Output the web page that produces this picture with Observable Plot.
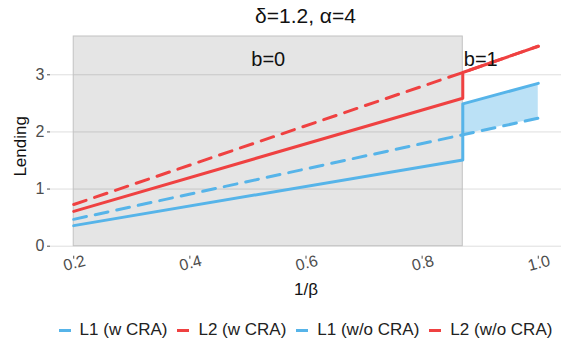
<!DOCTYPE html>
<html>
<head>
<meta charset="utf-8">
<script src="https://cdn.jsdelivr.net/npm/d3@7"></script>
<script src="https://cdn.jsdelivr.net/npm/@observablehq/plot@0.6"></script>
<style>
  html, body { margin: 0; padding: 0; background: white; }
  body { width: 561px; height: 348px; overflow: hidden; font-family: "Liberation Sans", Arial, sans-serif; }
  #title { height: 32px; line-height: 32px; margin-left: 50px; width: 511px; text-align: center; font-size: 21px; color: #111; }
  #legend { height: 36px; margin-left: 50px; width: 511px; display: flex; justify-content: center; align-items: center; font-size: 17px; color: #222; }
  .item { display: flex; align-items: center; margin: 0 5px; white-space: nowrap; }
  .key { width: 12px; height: 3px; margin-right: 9px; }
</style>
</head>
<body>
<div id="title">δ=1.2, α=4</div>
<div id="chart"></div>
<div id="legend"></div>
<script>
// ---- data ----
const seriesNames = ["L1 (w CRA)", "L2 (w CRA)", "L1 (w/o CRA)", "L2 (w/o CRA)"];
const seriesColors = ["#56B4E9", "#EF4141", "#56B4E9", "#EF4141"];

const l1wX = [0.2, 0.87, 0.87, 1.0];
const l1wY = [0.36, 1.51, 2.49, 2.85];
const l2wX = [0.2, 0.87, 0.87, 1.0];
const l2wY = [0.61, 2.59, 3.04, 3.50];
const l1woX = [0.2, 0.87, 1.0];
const l1woY = [0.47, 1.95, 2.24];
const l2woX = [0.2, 0.87, 1.0];
const l2woY = [0.73, 3.04, 3.50];

const ribbonX = [0.87, 1.0];
const ribbonLow = [1.95, 2.24];
const ribbonHigh = [2.49, 2.85];

const regionX1 = [0.2];
const regionX2 = [0.87];

const annotLabels = ["b=0", "b=1"];
const annotX = [0.535, 0.87];
const annotY = [3.27, 3.27];

const xTicks = [0.2, 0.4, 0.6, 0.8, 1.0];
const xTickLabels = ["0.2", "0.4", "0.6", "0.8", "1.0"];
const yTicks = [0, 1, 2, 3];
const yTickLabels = ["0", "1", "2", "3"];

const xDomain = [0.16, 1.04];
const yDomain = [-0.175, 3.67];

// ---- build tables ----
const toRows = (xs, ys) => xs.map((x, i) => ({x, y: ys[i]}));
const l1w = toRows(l1wX, l1wY);
const l2w = toRows(l2wX, l2wY);
const l1wo = toRows(l1woX, l1woY);
const l2wo = toRows(l2woX, l2woY);
const ribbon = ribbonX.map((x, i) => ({x, lo: ribbonLow[i], hi: ribbonHigh[i]}));
const regions = regionX1.map((x1, i) => ({x1, x2: regionX2[i], y1: 0, y2: yDomain[1]}));
const annots = annotLabels.map((t, i) => ({t, x: annotX[i], y: annotY[i]}));

const FONT = "Liberation Sans, Arial, sans-serif";
const dash = "13,9";

const chart = Plot.plot({
  width: 561,
  height: 280,
  marginTop: 4,
  marginBottom: 56.3,
  marginLeft: 50,
  marginRight: 0,
  x: {domain: xDomain},
  y: {domain: yDomain},
  style: {fontFamily: FONT, fontSize: "15px", background: "white", overflow: "visible"},
  marks: [
    Plot.ruleY(yTicks, {stroke: "#dedede", strokeWidth: 1}),
    Plot.rect(regions, {x1: "x1", x2: "x2", y1: "y1", y2: "y2", fill: "black", fillOpacity: 0.1, stroke: "#c2c2c2", strokeWidth: 1}),
    Plot.areaY(ribbon, {x: "x", y1: "lo", y2: "hi", fill: seriesColors[0], fillOpacity: 0.4}),
    Plot.line(l1wo, {x: "x", y: "y", stroke: seriesColors[2], strokeWidth: 3, strokeDasharray: dash}),
    Plot.line(l2wo, {x: "x", y: "y", stroke: seriesColors[3], strokeWidth: 3, strokeDasharray: dash}),
    Plot.line(l1w, {x: "x", y: "y", stroke: seriesColors[0], strokeWidth: 3}),
    Plot.line(l2w, {x: "x", y: "y", stroke: seriesColors[1], strokeWidth: 3}),
    Plot.text(annots.slice(0, 1), {x: "x", y: "y", text: "t", fontSize: 20, fill: "#111", textAnchor: "middle"}),
    Plot.text(annots.slice(1), {x: "x", y: "y", text: "t", fontSize: 20, fill: "#111", textAnchor: "start", dx: 1}),
    Plot.axisY({ticks: yTicks, tickSize: 3, tickPadding: 3, tickFormat: (d, i) => yTickLabels[yTicks.indexOf(d)], label: null, fontSize: 16, color: "#4d4d4d"}),
    Plot.axisX({ticks: xTicks, tickSize: 3, tickFormat: () => "", label: null, color: "#4d4d4d"}),
    Plot.text(xTicks, {x: d => d, text: (d, i) => xTickLabels[i], frameAnchor: "bottom", dy: 12, dx: 2, rotate: -15, fill: "#4d4d4d", fontSize: 16}),
    Plot.text(["1/β"], {text: d => d, frameAnchor: "bottom", dy: 39, fontSize: 17, fill: "#111", textAnchor: "middle"}),
    Plot.text(["Lending"], {text: d => d, frameAnchor: "left", rotate: -90, dx: -30, fontSize: 17, fill: "#111", textAnchor: "middle"})
  ]
});
document.getElementById("chart").appendChild(chart);

// ---- legend ----
const legend = document.getElementById("legend");
seriesNames.forEach((name, i) => {
  const item = document.createElement("div");
  item.className = "item";
  const key = document.createElement("span");
  key.className = "key";
  key.style.background = seriesColors[i];
  const label = document.createElement("span");
  label.textContent = name;
  item.appendChild(key);
  item.appendChild(label);
  legend.appendChild(item);
});
</script>
</body>
</html>
